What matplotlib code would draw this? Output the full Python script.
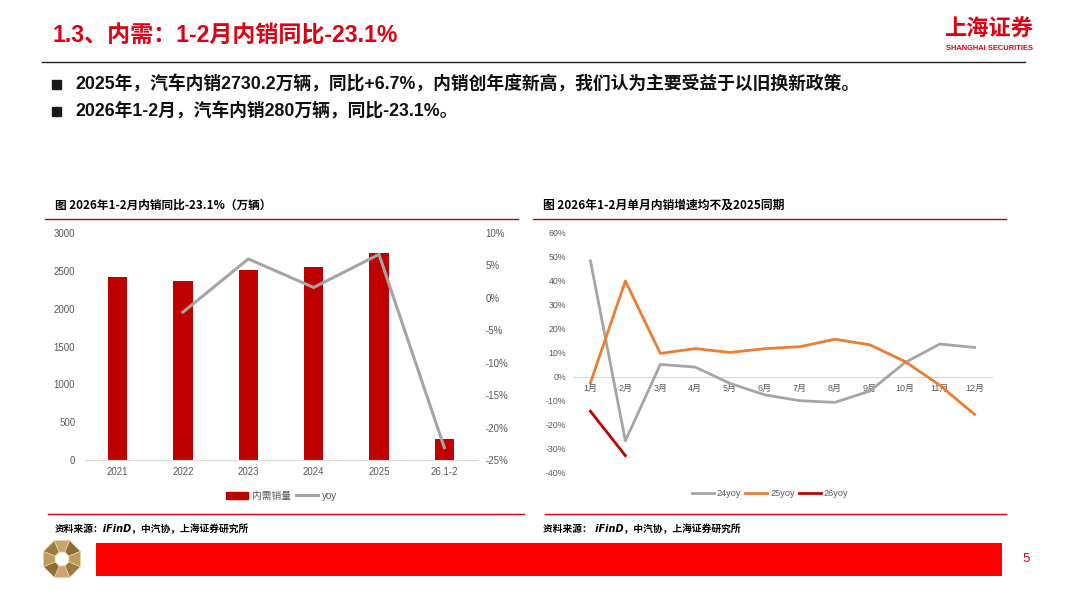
import matplotlib
matplotlib.use('Agg')
import matplotlib.pyplot as plt
import numpy as np
from matplotlib.patches import Rectangle, Polygon, Patch
from matplotlib.lines import Line2D
from matplotlib.ticker import FuncFormatter

# ---------------- data ----------------
years = ['2021', '2022', '2023', '2024', '2025', '26.1-2']
sales = [2415, 2366, 2512, 2553, 2730.2, 280]          # 万辆
sales_yoy = [np.nan, -2.2, 6.0, 1.6, 6.7, -23.1]        # %

months = ['1月', '2月', '3月', '4月', '5月', '6月', '7月', '8月', '9月', '10月', '11月', '12月']
yoy24 = [48.2, -26.7, 5.1, 4.0, -2.8, -7.6, -10.0, -10.7, -6.0, 5.8, 13.6, 12.2]
yoy25 = [-2.5, 39.9, 9.7, 11.7, 10.1, 11.7, 12.5, 15.6, 13.3, 6.4, -3.5, -15.7]
yoy26 = [-14.4, -32.9]

FAM = ['Liberation Sans', 'Noto Sans CJK SC', 'DejaVu Sans']
plt.rcParams['font.family'] = FAM

W, H = 1067, 600
fig = plt.figure(figsize=(10.67, 6), dpi=100)
fig.patch.set_facecolor('white')

bg = fig.add_axes([0, 0, 1, 1], zorder=0)
bg.set_xlim(0, W); bg.set_ylim(H, 0); bg.axis('off')


def rect(x0, y0, x1, y1):
    return [x0 / W, 1 - y1 / H, (x1 - x0) / W, (y1 - y0) / H]


TICK = '#595959'
RED_T = '#E00012'

# ---------------- header ----------------
bg.text(52, 35, '1.3、内需：1-2月内销同比-23.1%', color=RED_T, fontsize=16.6,
        weight='bold', va='center', ha='left')
bg.text(989, 29.5, '上海证券', color=RED_T, fontsize=16, weight='bold',
        va='center', ha='center', family=['Noto Sans CJK SC'])
bg.text(989, 49, 'SHANGHAI SECURITIES', color=RED_T, fontsize=5.4, weight='bold',
        va='center', ha='center')
bg.plot([42, 1025], [62, 62], color='#222222', lw=1)

bullets = ['2025年，汽车内销2730.2万辆，同比+6.7%，内销创年度新高，我们认为主要受益于以旧换新政策。',
           '2026年1-2月，汽车内销280万辆，同比-23.1%。']
for yy, txt in zip([84, 111.5], bullets):
    bg.add_patch(Rectangle((52, yy - 4.5), 9, 9, color='#1a1a1a'))
    bg.text(75, yy, txt, fontsize=12.8, weight='bold', color='#111111', va='center', ha='left')

# ---------------- panel titles / lines ----------------
bg.text(55, 205, '图 2026年1-2月内销同比-23.1%（万辆）', fontsize=8.4, weight='bold',
        va='center', ha='left', family=['Noto Sans CJK SC'])
bg.text(543, 205, '图 2026年1-2月单月内销增速均不及2025同期', fontsize=8.5, weight='bold',
        va='center', ha='left', family=['Noto Sans CJK SC'])
bg.plot([45, 518], [219.3, 219.3], color='#C00000', lw=1)
bg.plot([533, 1006], [219.3, 219.3], color='#C00000', lw=1)

# ---------------- left chart ----------------
ax1 = fig.add_axes(rect(85, 233, 477, 460), zorder=1)
ax1.set_facecolor('none')
x = np.arange(len(years))
ax1.bar(x, sales, width=0.3, color='#C00000', zorder=2)
ax1.set_xlim(-0.5, len(years) - 0.5)
ax1.set_ylim(0, 3000)
ax1.set_yticks(range(0, 3001, 500))
ax1.set_xticks(x)
ax1.set_xticklabels(years)
for s in ['top', 'left', 'right']:
    ax1.spines[s].set_visible(False)
ax1.spines['bottom'].set_color('#D9D9D9')
ax1.tick_params(axis='both', length=0, colors=TICK, labelsize=7)
ax1.tick_params(axis='y', pad=7)
ax1.tick_params(axis='x', pad=5)

ax1r = ax1.twinx()
ax1r.set_facecolor('none')
ax1r.plot(x, sales_yoy, color='#A5A5A5', lw=2.2, zorder=3)
ax1r.set_ylim(-25, 10)
ax1r.set_yticks(range(-25, 11, 5))
ax1r.yaxis.set_major_formatter(FuncFormatter(lambda v, p: f'{v:.0f}%'))
for s in ax1r.spines.values():
    s.set_visible(False)
ax1r.tick_params(axis='y', length=0, colors=TICK, labelsize=7, pad=6)

h1 = [Patch(color='#C00000'), Line2D([], [], color='#A5A5A5', lw=2.2)]
fig.legend(h1, ['内需销量', 'yoy'], loc='center', bbox_to_anchor=(281.5 / W, 1 - 495.7 / H),
           ncol=2, frameon=False, fontsize=7, labelcolor=TICK, handlelength=2.2,
           handletextpad=0.4, columnspacing=0.6, handleheight=0.7)

# ---------------- right chart ----------------
ax2 = fig.add_axes(rect(573, 232.7, 992, 472.7), zorder=1)
ax2.set_facecolor('none')
m = np.arange(len(months))
l24, = ax2.plot(m, yoy24, color='#A5A5A5', lw=2.0, zorder=3)
l25, = ax2.plot(m, yoy25, color='#ED7D31', lw=2.0, zorder=3)
l26, = ax2.plot(m[:len(yoy26)], yoy26, color='#C00000', lw=2.0, zorder=3)
ax2.set_xlim(-0.5, len(months) - 0.5)
ax2.set_ylim(-40, 60)
ax2.set_yticks(range(-40, 61, 10))
ax2.yaxis.set_major_formatter(FuncFormatter(lambda v, p: f'{v:.0f}%'))
ax2.set_xticks(m)
ax2.set_xticklabels(months)
for s in ['top', 'left', 'right']:
    ax2.spines[s].set_visible(False)
ax2.spines['bottom'].set_position(('data', 0))
ax2.spines['bottom'].set_color('#D9D9D9')
ax2.spines['bottom'].set_zorder(1)
ax2.tick_params(axis='both', length=0, colors=TICK)
ax2.tick_params(axis='y', labelsize=6.3, pad=5)
ax2.tick_params(axis='x', labelsize=6.5, pad=5)

fig.legend([l24, l25, l26], ['24yoy', '25yoy', '26yoy'], loc='center',
           bbox_to_anchor=(770 / W, 1 - 494 / H), ncol=3, frameon=False, fontsize=6.6,
           labelcolor=TICK, handlelength=2.4, handletextpad=0.35, columnspacing=0.4)

# ---------------- footer ----------------
bg.plot([48, 524], [514.3, 514.3], color='#E00012', lw=1)
bg.plot([545, 1006], [514.3, 514.3], color='#E00012', lw=1)
bg.text(55, 529, '资料来源：iFinD，中汽协，上海证券研究所', fontsize=7, weight='bold',
        style='italic', va='center', ha='left', family=['DejaVu Sans', 'Noto Sans CJK SC'])
bg.text(543, 529, '资料来源： iFinD，中汽协，上海证券研究所', fontsize=7, weight='bold',
        style='italic', va='center', ha='left', family=['DejaVu Sans', 'Noto Sans CJK SC'])

bg.add_patch(Rectangle((96, 543.3), 1002 - 96, 32.7, color='#FF0000', lw=0))
bg.text(1026.5, 559.5, '5', color=RED_T, fontsize=9.5, va='center', ha='center')

# octagon logo
cx, cy, R, r = 62, 559, 20, 7.5
cols = ['#9C7A43', '#C7A76C', '#8E6C36', '#BE9C5E']
for k in range(8):
    a0 = np.deg2rad(22.5 + 45 * k)
    a1 = np.deg2rad(22.5 + 45 * (k + 1))
    pts = [(cx + R * np.cos(a0), cy + R * np.sin(a0)),
           (cx + R * np.cos(a1), cy + R * np.sin(a1)),
           (cx + r * np.cos(a1), cy + r * np.sin(a1)),
           (cx + r * np.cos(a0), cy + r * np.sin(a0))]
    bg.add_patch(Polygon(pts, closed=True, facecolor=cols[k % 4], edgecolor='#E8D5A8', lw=0.5))

fig.savefig('out.png', dpi=100, facecolor='white')
